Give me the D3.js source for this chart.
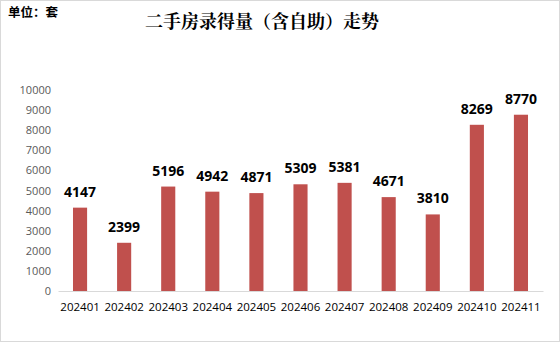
<!DOCTYPE html>
<html lang="zh">
<head>
<meta charset="UTF-8">
<title>二手房录得量（含自助）走势</title>
<script src="https://d3js.org/d3.v7.min.js"></script>
<style>
  body { margin: 0; background: #fff; }
  svg { display: block; }
  .tick text { font-family: "Open Sans", "Noto Sans", sans-serif; font-size: 11px; fill: #595959; }
</style>
</head>
<body>
<svg width="560" height="342"></svg>
<script>
const months = ["202401","202402","202403","202404","202405","202406","202407","202408","202409","202410","202411"];
const counts = [4147, 2399, 5196, 4942, 4871, 5309, 5381, 4671, 3810, 8269, 8770];
const yTicks = [0,1000,2000,3000,4000,5000,6000,7000,8000,9000,10000];

const width = 560, height = 342;
const svg = d3.select("svg");

svg.append("rect")
  .attr("x", 0.5).attr("y", 0.5)
  .attr("width", width - 1).attr("height", height - 1)
  .attr("fill", "#fff").attr("stroke", "#d9d9d9");

const x = d3.scaleBand().domain(months).range([58, 543]).paddingInner(0.68).paddingOuter(0.34);
const y = d3.scaleLinear().domain([0, 10000]).range([291, 90]);

// y axis labels only
const yAxis = svg.append("g")
  .attr("transform", "translate(58,0)")
  .call(d3.axisLeft(y).tickValues(yTicks).tickFormat(d3.format("d")).tickSize(0).tickPadding(7));
yAxis.select(".domain").remove();

// x axis
const xAxis = svg.append("g")
  .attr("transform", "translate(0,291)")
  .call(d3.axisBottom(x).tickSize(0).tickPadding(12));
xAxis.select(".domain").attr("stroke", "#d9d9d9");
xAxis.selectAll(".tick text").style("fill", "#000").style("font-size", "11.5px");

svg.append("g").selectAll("rect")
  .data(counts)
  .join("rect")
  .attr("x", (d, i) => x(months[i]))
  .attr("y", d => y(d))
  .attr("width", x.bandwidth())
  .attr("height", d => y(0) - y(d))
  .attr("fill", "#C0504D");

svg.append("g").selectAll("text")
  .data(counts)
  .join("text")
  .attr("x", (d, i) => x(months[i]) + x.bandwidth() / 2)
  .attr("y", d => y(d) - 11)
  .attr("text-anchor", "middle")
  .style("font-family", "'Open Sans', 'Noto Sans', sans-serif")
  .style("font-weight", "bold")
  .style("font-size", "14px")
  .text(d => d);

svg.append("text")
  .attr("x", 8).attr("y", 17)
  .style("font-family", "'Noto Sans CJK SC', sans-serif")
  .style("font-weight", "bold")
  .style("font-size", "12.5px")
  .text("单位：套");

svg.append("text")
  .attr("x", 262).attr("y", 28)
  .attr("text-anchor", "middle")
  .style("font-family", "'Noto Serif CJK SC', 'Noto Sans CJK SC', serif")
  .style("font-weight", "bold")
  .style("font-size", "18px")
  .text("二手房录得量（含自助）走势");
</script>
</body>
</html>
